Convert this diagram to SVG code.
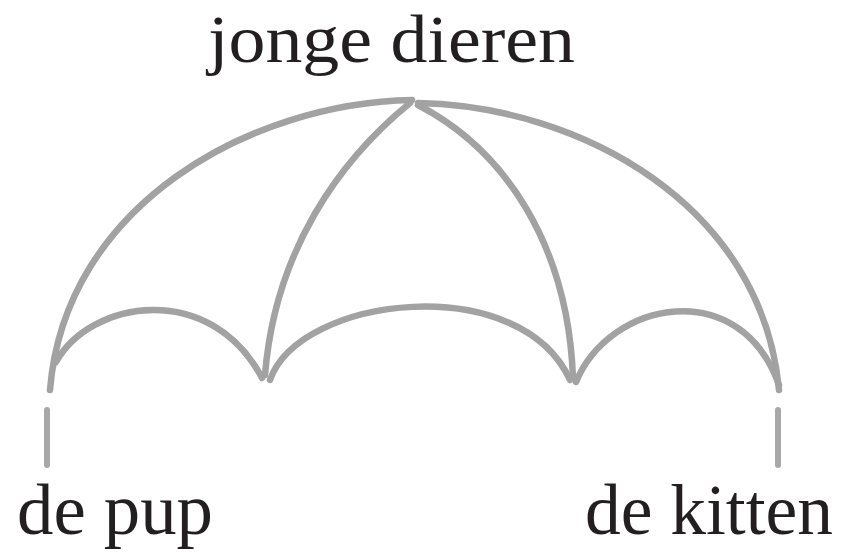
<svg xmlns="http://www.w3.org/2000/svg" width="845" height="552" viewBox="0 0 845 552">
<style>
.rib{fill:none;stroke:#a2a2a2;stroke-width:6.5;stroke-linecap:round}
.handle{fill:none;stroke:#a8a8a8;stroke-width:6;stroke-linecap:round}
.lbl{font-family:"Liberation Serif","Times New Roman",serif;font-size:72px;fill:#231f20}
.lbl-top{font-size:68px}
</style>
<rect width="845" height="552" fill="#ffffff"/>
<g id="connectors">
<path class="rib" d="M412,100 C250,103 65,205 50,390"/>
<path class="rib" d="M418,103 C580,106 762,205 779,390"/>
<path class="rib" d="M410,103 C340,160 275,250 265,375"/>
<path class="rib" d="M418,105 C505,150 568,245 573,378"/>
<path class="rib" d="M56,362 C90,300 210,280 262,378"/>
<path class="rib" d="M270,380 C300,295 520,270 570,380"/>
<path class="rib" d="M576,382 C610,300 740,275 779,385"/>
</g>
<g id="top">
<text class="lbl lbl-top" x="208" y="62" textLength="367" lengthAdjust="spacingAndGlyphs">jonge dieren</text>
</g>
<g id="left">
<path class="handle" d="M47,410 L47,465"/>
<text class="lbl" x="17" y="534" textLength="196" lengthAdjust="spacingAndGlyphs">de pup</text>
</g>
<g id="right">
<path class="handle" d="M778,410 L778,465"/>
<text class="lbl" x="585" y="534" textLength="248" lengthAdjust="spacingAndGlyphs">de kitten</text>
</g>
</svg>
